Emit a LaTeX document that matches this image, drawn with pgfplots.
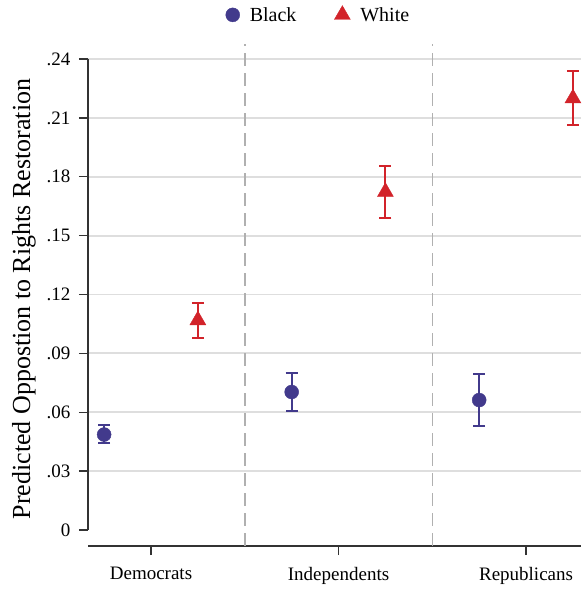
\documentclass[border=0pt]{standalone}
\usepackage{pgfplots}
\pgfplotsset{compat=1.18}
\usepackage{fontspec}
\setmainfont{Liberation Serif}
\definecolor{cblack}{RGB}{66,58,140}
\definecolor{cwhite}{RGB}{210,35,42}
\definecolor{gridc}{RGB}{222,222,222}
\definecolor{dashc}{RGB}{176,176,176}
\begin{document}
\begin{tikzpicture}[x=1pt,y=1pt]
\useasboundingbox (0,0) rectangle (581,593);
\begin{axis}[
  at={(88pt,47pt)}, anchor=south west,
  scale only axis, width=493pt, height=502pt,
  xmin=0.664, xmax=3.293, ymin=-0.0082, ymax=0.2477,
  axis x line=bottom, axis y line=left,
  axis line style={-, line width=1.2pt, black!80},
  y axis line style={draw=none},
  xtick={1,2,3}, xticklabels={Democrats,Independents,Republicans},
  ytick={0.03,0.06,0.09,0.12,0.15,0.18,0.21,0.24},
  yticklabels={.03,.06,.09,.12,.15,.18,.21,.24},
  extra y ticks={0}, extra y tick labels={0},
  extra y tick style={grid=none},
  ymajorgrids, major grid style={gridc, line width=1.8pt},
  tick align=outside, major tick length=9pt,
  tick style={line width=1.2pt, black!80},
  tick label style={font=\fontsize{19}{22}\selectfont},
  yticklabel style={xshift=-5pt},
  xticklabel style={yshift=-9pt},
  ylabel={Predicted Oppostion to Rights Restoration},
  ylabel style={at={(axis description cs:-0.13,0.492)}, anchor=center, font=\fontsize{26}{30}\selectfont},
  clip=false,
  legend style={at={(axis description cs:0.4675,1.058)}, anchor=center, draw=none, fill=none,
    font=\fontsize{20}{23}\selectfont, legend columns=2,
    /tikz/every odd column/.append style={column sep=8pt},
    /tikz/every even column/.append style={column sep=36pt}},
  legend image code/.code={\draw[#1] plot coordinates {(0pt,0pt)};},
]
\draw[dashc, line width=1.6pt, dash pattern=on 13pt off 7pt] (axis cs:1.5,-0.0082) -- (axis cs:1.5,0.2477);
\draw[dashc, line width=1.6pt, dash pattern=on 13pt off 7pt] (axis cs:2.5,-0.0082) -- (axis cs:2.5,0.2477);
\draw[line width=1.2pt, black!80] (axis cs:0.664,0) -- (axis cs:0.664,0.24);
\addplot[only marks, cblack, mark=*, mark size=7pt, mark options={fill=cblack, draw=cblack},
  error bars/.cd, y dir=both, y explicit, error mark=|,
  error bar style={line width=2pt, cblack},
  error mark options={mark size=6pt, line width=2pt, cblack}]
  coordinates {
  (0.75,0.0486) += (0,0.0047) -= (0,0.0045)
  (1.75,0.0703) += (0,0.0097) -= (0,0.0098)
  (2.75,0.0662) += (0,0.0133) -= (0,0.0134)
  };
\addlegendentry{Black}
\addplot[only marks, cwhite, mark=triangle*, mark size=9.2pt, mark options={fill=cwhite, draw=cwhite},
  error bars/.cd, y dir=both, y explicit, error mark=|,
  error bar style={line width=2pt, cwhite},
  error mark options={mark size=6pt, line width=2pt, cwhite}]
  coordinates {
  (1.25,0.1069) += (0,0.0090) -= (0,0.0090)
  (2.25,0.1723) += (0,0.0133) -= (0,0.0133)
  (3.25,0.2200) += (0,0.0138) -= (0,0.0138)
  };
\addlegendentry{White}
\end{axis}
\end{tikzpicture}
\end{document}
